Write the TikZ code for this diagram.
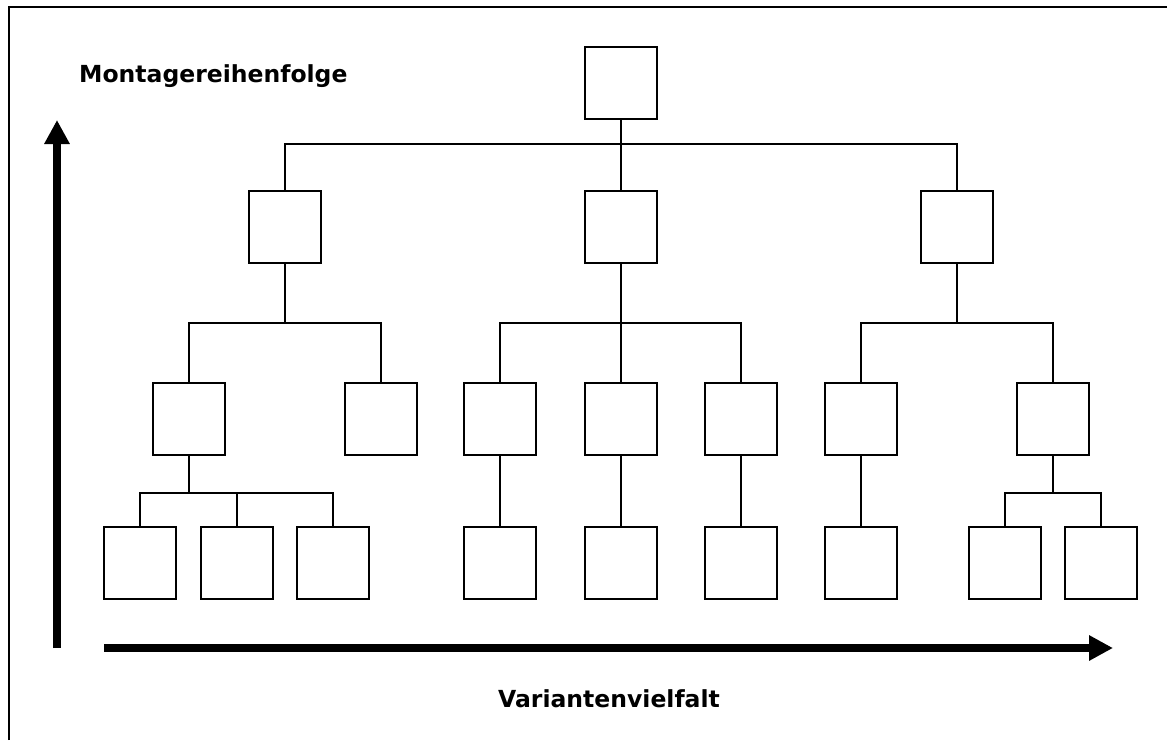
\documentclass[tikz,border=0pt]{standalone}
\usepackage{fontspec}
\setmainfont{DejaVu Sans}
\usetikzlibrary{arrows.meta}
\begin{document}
\begin{tikzpicture}[x=1pt,y=-1pt,
  part/.style={draw,line width=2pt,minimum width=72pt,minimum height=72pt,inner sep=0pt,fill=white},
  link/.style={line width=2pt},
  axis/.style={line width=8pt,-{Triangle[length=24pt,width=24pt]}},
  caption/.style={font=\bfseries\fontsize{23.5}{28}\selectfont,inner sep=0pt,anchor=base west}]
\useasboundingbox (0,0) rectangle (1167,740);
% frame
\draw[line width=2pt] (9,740) -- (9,7) -- (1167,7);
% axes
\coordinate (yb) at (57,648);
\coordinate (yt) at (57,120);
\coordinate (xl) at (104,648);
\coordinate (xr) at (1113,648);
\draw[axis] (yb) -- (yt);
\draw[axis] (xl) -- (xr);
\node[caption] (ly) at (79,82) {Montagereihenfolge};
\node[caption] (lx) at (498,707) {Variantenvielfalt};
% level 1
\node[part] (r) at (621,82.5) {};
% level 2
\node[part] (a) at (285,227) {};
\node[part] (b) at (621,227) {};
\node[part] (c) at (957,227) {};
% level 3
\node[part] (a1) at (189,419) {};
\node[part] (a2) at (381,419) {};
\node[part] (b1) at (500,419) {};
\node[part] (b2) at (621,419) {};
\node[part] (b3) at (741,419) {};
\node[part] (c1) at (861,419) {};
\node[part] (c2) at (1053,419) {};
% level 4
\node[part] (a11) at (140,563) {};
\node[part] (a12) at (237,563) {};
\node[part] (a13) at (333,563) {};
\node[part] (b11) at (500,563) {};
\node[part] (b21) at (621,563) {};
\node[part] (b31) at (741,563) {};
\node[part] (c11) at (861,563) {};
\node[part] (c21) at (1005,563) {};
\node[part] (c22) at (1101,563) {};
% connectors
\foreach \p/\d/\cs in {r/24/{a,b,c}, a/59/{a1,a2}, b/59/{b1,b2,b3}, c/59/{c1,c2}, a1/37/{a11,a12,a13}, c2/37/{c21,c22}}
  \foreach \ch in \cs
    \draw[link] (\p.south) -- ++(0,\d) -| (\ch.north);
\foreach \p/\ch in {b1/b11, b2/b21, b3/b31, c1/c11}
  \draw[link] (\p.south) -- (\ch.north);
\end{tikzpicture}
\end{document}
